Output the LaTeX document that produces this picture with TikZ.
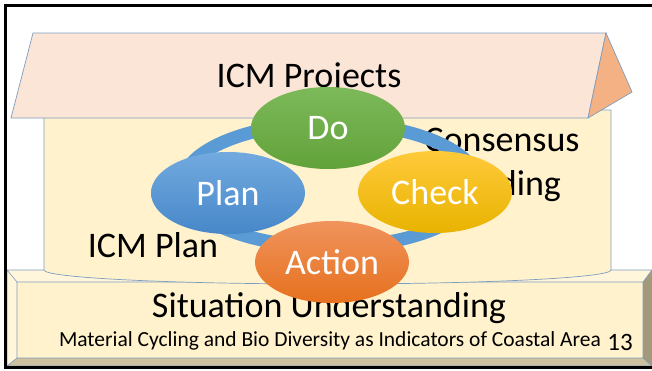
\documentclass[tikz,border=0pt]{standalone}
\usepackage{fontspec}
\setmainfont{Carlito}
\usetikzlibrary{shapes.geometric}
\definecolor{edgeblue}{HTML}{7F9DC0}
\definecolor{roofface}{HTML}{FBE5D6}
\definecolor{roofside}{HTML}{F4B183}
\definecolor{cream}{HTML}{FFF2CC}
\definecolor{creamlight}{HTML}{FFF6DC}
\definecolor{bevbottom}{HTML}{CDC1A0}
\definecolor{bevright}{HTML}{A39A7C}
\definecolor{ringblue}{HTML}{5B9BD5}
\definecolor{dotop}{HTML}{7CB95A}
\definecolor{dobot}{HTML}{62A23A}
\definecolor{plantop}{HTML}{72AADF}
\definecolor{planbot}{HTML}{4787C9}
\definecolor{checktop}{HTML}{FFCA3A}
\definecolor{checkbot}{HTML}{E8B300}
\definecolor{acttop}{HTML}{F0935C}
\definecolor{actbot}{HTML}{E6711E}
\tikzset{
  outl/.style={draw=edgeblue, line width=0.7pt},
  bigtext/.style={font=\fontsize{36}{44}\selectfont, inner sep=0pt},
  cyc/.style={ellipse, inner sep=0pt, minimum width=154pt, minimum height=82pt,
    text=white, font=\fontsize{36}{40}\selectfont},
}
\begin{document}
\begin{tikzpicture}[x=1pt,y=-1pt]
\useasboundingbox (0,0) rectangle (652,370);
\fill[white] (0,0) rectangle (652,370);
% platform
\fill[creamlight] (7,270) -- (652,270) -- (643,282) -- (17,282) -- cycle;
\fill[creamlight] (7,270) -- (17,282) -- (17,358) -- (7,366) -- cycle;
\fill[bevbottom] (7,366) -- (17,358) -- (643,358) -- (652,366) -- cycle;
\fill[bevright] (652,270) -- (643,282) -- (643,358) -- (652,366) -- cycle;
\fill[cream] (17,282) rectangle (643,358);
\draw[edgeblue, line width=0.6pt] (7,270) -- (652,270) (17,282) rectangle (643,358)
  (7,270) -- (7,366) -- (652,366) (7,270) -- (17,282) (7,366) -- (17,358)
  (652,270) -- (643,282) (652,366) -- (643,358);
% cylinder
\filldraw[fill=cream, outl] (44,110) -- (44,270) arc[start angle=180, end angle=0, x radius=283.5, y radius=14] -- (611,110) -- cycle;
% roof
\filldraw[fill=roofface, outl] (33,33) -- (606,33) -- (588,118) -- (11,118) -- cycle;
\filldraw[fill=roofside, outl] (606,33) -- (632,92) -- (588,118) -- cycle;
% texts
\node[bigtext] (proj) at (309,78) {ICM Projects};
\node[bigtext, align=center] (cons) at (502,165) {Consensus\\Building};
\node[bigtext] (iplan) at (153,245) {ICM Plan};
\node[bigtext] (situ) at (329,308) {Situation Understanding};
\node[font=\fontsize{21.5}{24}\selectfont, inner sep=0pt] (mat) at (330,341) {Material Cycling and Bio Diversity as Indicators of Coastal Area};
\node[font=\fontsize{25}{28}\selectfont, inner sep=0pt] (num) at (620,342) {13};
% ring
\draw[ringblue, line width=13pt] (330,185) ellipse [x radius=148, y radius=62];
% cycle ellipses
\node[cyc, top color=dotop, bottom color=dobot] (do) at (328,128) {Do};
\node[cyc, top color=plantop, bottom color=planbot] (plan) at (228,193) {Plan};
\node[cyc, top color=checktop, bottom color=checkbot] (check) at (435,192) {Check};
\node[cyc, top color=acttop, bottom color=actbot] (action) at (332,262) {Action};
% frame
\draw[black, line width=2.5pt] (660,5.5) -- (5.5,5.5) -- (5.5,367.5) -- (660,367.5);
\end{tikzpicture}
\end{document}
